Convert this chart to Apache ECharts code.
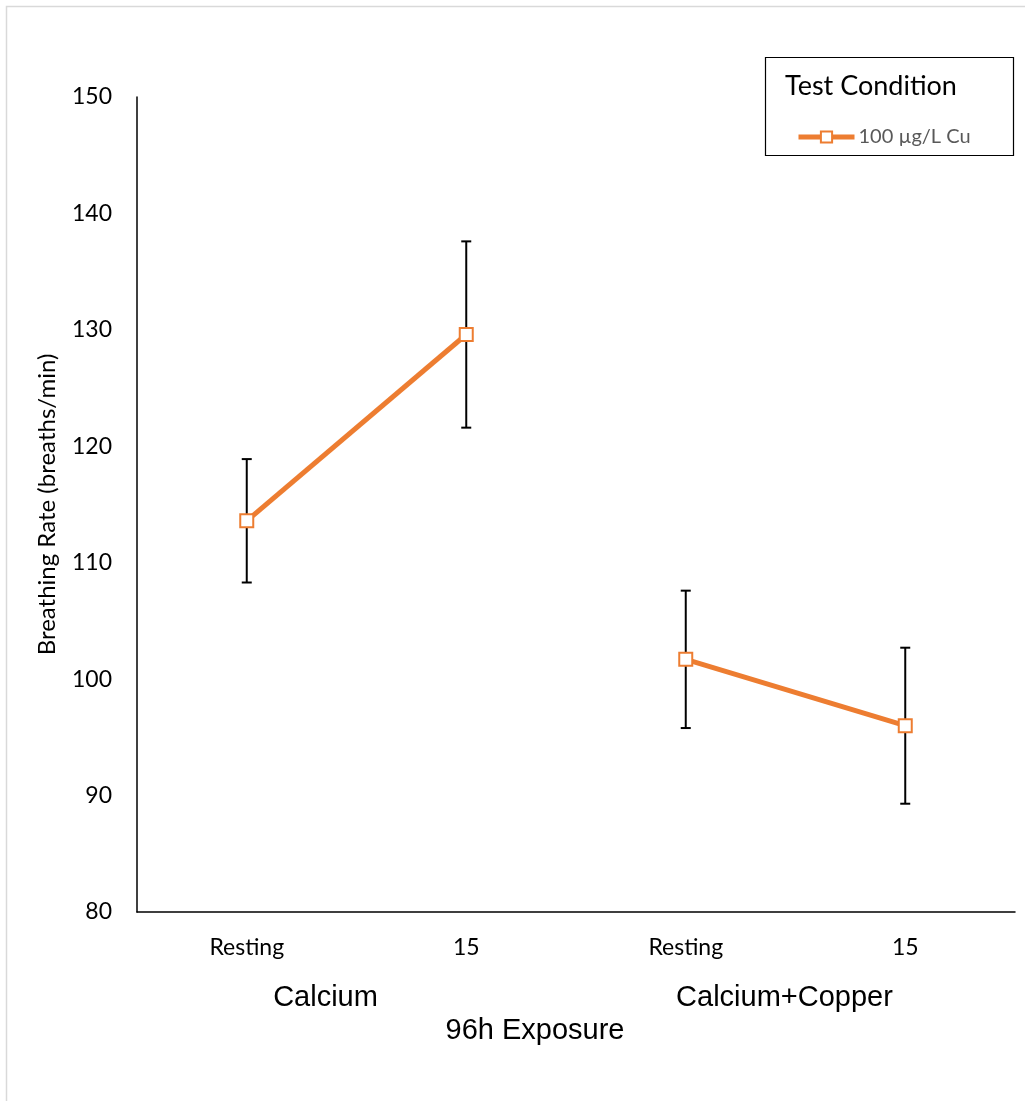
<!DOCTYPE html>
<html><head><meta charset="utf-8">
<script src="https://cdn.jsdelivr.net/npm/echarts@6/dist/echarts.min.js"></script>
<style>html,body{margin:0;padding:0;background:#fff}#c{width:1025px;height:1101px}</style>
</head><body><div id="c"></div>
<script>
const categories = ['Resting', '15', 'Resting', '15'];
const groups = ['Calcium', 'Calcium+Copper'];
const seriesName = '100 µg/L Cu';
const calciumMeans = [113.6, 129.6];
const calciumErr = [5.3, 8.0];
const copperMeans = [101.7, 96.0];
const copperErr = [5.9, 6.7];
const yTicks = [80, 90, 100, 110, 120, 130, 140, 150];

const orange = '#ED7D31';
const lineData1 = [[0, calciumMeans[0]], [1, calciumMeans[1]]];
const lineData2 = [[2, copperMeans[0]], [3, copperMeans[1]]];
const errData = [
  [0, calciumMeans[0] - calciumErr[0], calciumMeans[0] + calciumErr[0]],
  [1, calciumMeans[1] - calciumErr[1], calciumMeans[1] + calciumErr[1]],
  [2, copperMeans[0] - copperErr[0], copperMeans[0] + copperErr[0]],
  [3, copperMeans[1] - copperErr[1], copperMeans[1] + copperErr[1]]
];

const chart = echarts.init(document.getElementById('c'));
const lineSeries = (data) => ({
  type: 'line', name: seriesName, data: data, z: 3,
  symbol: 'rect', symbolSize: 13,
  lineStyle: { color: orange, width: 5 },
  itemStyle: { color: '#fff', borderColor: orange, borderWidth: 2 },
  emphasis: { disabled: true }
});
chart.setOption({
  animation: false,
  grid: { left: 137, right: 10, top: 97, bottom: 189, containLabel: false },
  title: {
    text: 'Test Condition', left: 780, top: 68,
    textStyle: { fontFamily: 'Lato', fontSize: 27, fontWeight: 'normal', color: '#000' }
  },
  legend: {
    data: [seriesName], left: 791, top: 122, itemWidth: 56, itemHeight: 14, itemGap: 4,
    lineStyle: { width: 5, color: orange },
    textStyle: { fontFamily: 'Lato', fontSize: 20, color: '#595959', padding: [0, 0, 0, -1] }
  },
  graphic: [
    { type: 'rect', shape: { x: 6.5, y: 6.5, width: 1040, height: 1120 }, style: { fill: 'none', stroke: '#d9d9d9', lineWidth: 1.5 }, silent: true },
    { type: 'rect', shape: { x: 765.5, y: 57.5, width: 248, height: 98 }, style: { fill: 'none', stroke: '#000', lineWidth: 1.2 }, silent: true },
    { type: 'text', style: { text: '96h Exposure', x: 535, y: 1031, textAlign: 'center', textVerticalAlign: 'middle', font: '29px "Liberation Sans"', fill: '#000' } }
  ],
  xAxis: [{
    type: 'category', data: categories, boundaryGap: true,
    axisLine: { lineStyle: { color: '#000', width: 1.5 } },
    axisTick: { show: false },
    axisLabel: { fontFamily: 'Lato', fontSize: 23, color: '#000', margin: 24 }
  }, {
    type: 'category', data: groups, position: 'bottom', gridIndex: 0,
    axisLine: { show: false }, axisTick: { show: false },
    axisLabel: {
      margin: 71, interval: 0,
      formatter: (v, i) => i === 0 ? '{a|' + v + '}' : '{b|' + v + '}',
      rich: {
        a: { fontFamily: 'Liberation Sans', fontSize: 29, color: '#000', padding: [0, 62, 0, 0] },
        b: { fontFamily: 'Liberation Sans', fontSize: 29, color: '#000', padding: [0, 22, 0, 0] }
      }
    }
  }],
  yAxis: {
    type: 'value', min: yTicks[0], max: yTicks[yTicks.length - 1], interval: 10,
    name: 'Breathing Rate (breaths/min)', nameLocation: 'middle', nameGap: 78,
    nameTextStyle: { fontFamily: 'Lato', fontSize: 24, color: '#000' },
    axisLine: { show: true, lineStyle: { color: '#000', width: 1.5 } },
    axisTick: { show: false }, splitLine: { show: false },
    axisLabel: { fontFamily: 'Lato', fontSize: 23, color: '#000', margin: 25 }
  },
  series: [
    {
      type: 'custom', z: 2, silent: true, data: errData,
      renderItem: function (params, api) {
        const x = api.coord([api.value(0), api.value(1)])[0];
        const lo = api.coord([api.value(0), api.value(1)])[1];
        const hi = api.coord([api.value(0), api.value(2)])[1];
        const w = 5;
        const st = { stroke: '#000', lineWidth: 2 };
        return { type: 'group', children: [
          { type: 'line', shape: { x1: x, y1: lo, x2: x, y2: hi }, style: st },
          { type: 'line', shape: { x1: x - w, y1: lo, x2: x + w, y2: lo }, style: st },
          { type: 'line', shape: { x1: x - w, y1: hi, x2: x + w, y2: hi }, style: st }
        ]};
      }
    },
    lineSeries(lineData1),
    lineSeries(lineData2)
  ]
});
</script></body></html>
